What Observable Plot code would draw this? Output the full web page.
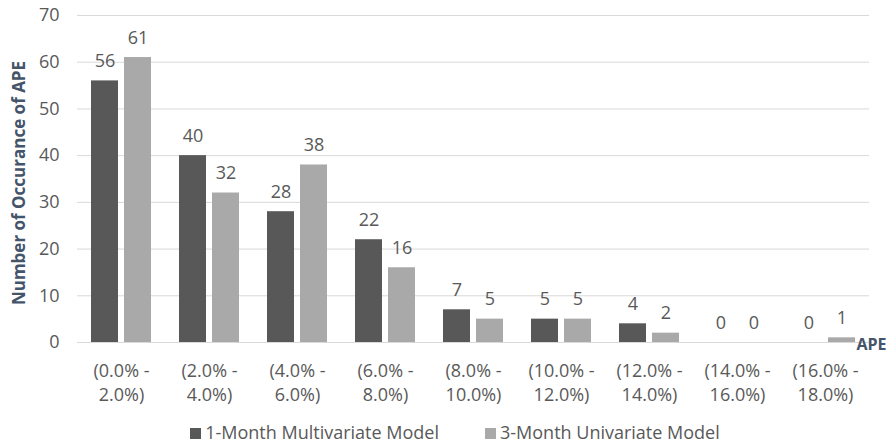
<!DOCTYPE html>
<html>
<head>
<meta charset="utf-8">
<script src="https://cdn.jsdelivr.net/npm/d3@7"></script>
<script src="https://cdn.jsdelivr.net/npm/@observablehq/plot@0.6"></script>
<style>
  html, body { margin: 0; padding: 0; background: #fff; }
  #wrap { width: 890px; font-family: "Open Sans", sans-serif; }
  #legend { display: flex; justify-content: center; gap: 46px; height: 36px; align-items: center; color: #595959; font-size: 18px; padding-left: 20px; padding-top: 4px; }
  #legend span.sw { display: inline-block; width: 11px; height: 11px; margin-right: 4px; vertical-align: 0px; }
</style>
</head>
<body>
<div id="wrap"></div>
<script>
const categories = ["(0.0% - 2.0%)", "(2.0% - 4.0%)", "(4.0% - 6.0%)", "(6.0% - 8.0%)", "(8.0% - 10.0%)", "(10.0% - 12.0%)", "(12.0% - 14.0%)", "(14.0% - 16.0%)", "(16.0% - 18.0%)"];
const series = ["1-Month Multivariate Model", "3-Month Univariate Model"];
const oneMonth = [56, 40, 28, 22, 7, 5, 4, 0, 0];
const threeMonth = [61, 32, 38, 16, 5, 5, 2, 0, 1];
const yTicks = [0, 10, 20, 30, 40, 50, 60, 70];
const colors = ["#585858", "#a9a9a9"];
const yTitle = "Number of Occurance of APE";
const xTitle = "APE";

const data = categories.flatMap((c, i) => [
  {cat: c, series: series[0], value: oneMonth[i]},
  {cat: c, series: series[1], value: threeMonth[i]}
]);

const chart = Plot.plot({
  width: 890,
  height: 410,
  marginLeft: 76,
  marginRight: 20,
  marginTop: 15,
  marginBottom: 68,
  style: {fontFamily: "Open Sans, sans-serif", fontSize: "16px", color: "#595959", background: "#fff"},
  fx: {domain: categories, padding: 0, label: null, axis: null},
  x: {domain: series, paddingInner: 0.176, paddingOuter: 0.385, axis: null},
  y: {domain: [0, 70], axis: null},
  color: {domain: series, range: colors},
  marks: [
    Plot.gridY(yTicks, {stroke: "#d9d9d9", strokeOpacity: 1}),
    Plot.barY(data, {fx: "cat", x: "series", y: "value", fill: "series"}),
    Plot.axisY(yTicks, {tickSize: 0, tickPadding: 18, label: null, fill: "#595959", fontSize: 18}),
    Plot.axisFx({anchor: "bottom", tickSize: 0, tickPadding: 17, label: null, lineHeight: 1.35, fill: "#595959", fontSize: 18,
      tickFormat: d => d.replace(" - ", " -\n")}),
    Plot.text(data, {fx: "cat", x: "series", y: "value", text: d => String(d.value), lineAnchor: "bottom", dy: -14, fill: "#595959", fontSize: 18}),
    Plot.text([yTitle], {fx: [categories[0]], frameAnchor: "left", textAnchor: "middle", lineAnchor: "middle", rotate: -90, dx: -58, dy: 4, fill: "#44546A", fontWeight: "bold", fontSize: 17, letterSpacing: "0.3px"}),
    Plot.text([xTitle], {fx: [categories[categories.length - 1]], frameAnchor: "bottom-right", textAnchor: "start", lineAnchor: "middle", dx: -13, dy: 2, fill: "#44546A", fontWeight: "bold", fontSize: 16})
  ]
});

const wrap = document.getElementById("wrap");
wrap.appendChild(chart);
const legend = document.createElement("div");
legend.id = "legend";
series.forEach((s, i) => {
  const item = document.createElement("div");
  item.innerHTML = `<span class="sw" style="background:${colors[i]}"></span>${s}`;
  legend.appendChild(item);
});
wrap.appendChild(legend);
</script>
</body>
</html>
